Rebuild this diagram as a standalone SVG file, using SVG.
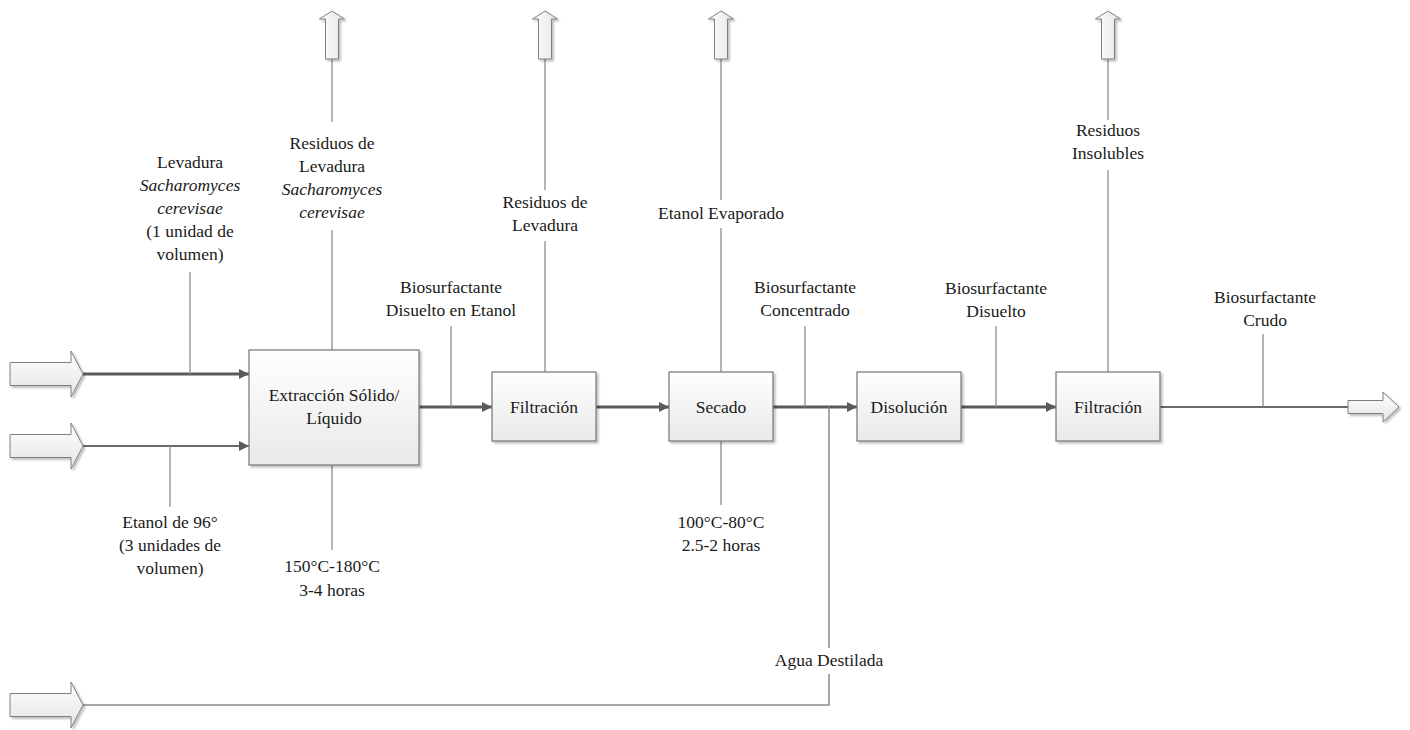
<svg xmlns="http://www.w3.org/2000/svg" width="1410" height="730" viewBox="0 0 1410 730">
  <defs>
    <linearGradient id="boxFill" x1="0" y1="0" x2="0" y2="1">
      <stop offset="0" stop-color="#ffffff"/>
      <stop offset="1" stop-color="#e9e9e9"/>
    </linearGradient>
    <linearGradient id="arrowFillH" x1="0" y1="0" x2="0" y2="1">
      <stop offset="0" stop-color="#ffffff"/>
      <stop offset="1" stop-color="#e4e4e4"/>
    </linearGradient>
    <linearGradient id="arrowFillV" x1="0" y1="0" x2="1" y2="0">
      <stop offset="0" stop-color="#ffffff"/>
      <stop offset="1" stop-color="#e4e4e4"/>
    </linearGradient>
    <filter id="shadow" x="-10%" y="-10%" width="130%" height="130%">
      <feGaussianBlur in="SourceAlpha" stdDeviation="1.2"/>
      <feOffset dx="2" dy="2" result="b"/>
      <feComponentTransfer><feFuncA type="linear" slope="0.25"/></feComponentTransfer>
      <feMerge><feMergeNode/><feMergeNode in="SourceGraphic"/></feMerge>
    </filter>
    <marker id="head" viewBox="0 0 10 10" refX="10" refY="5" markerWidth="10" markerHeight="10" markerUnits="userSpaceOnUse" orient="auto">
      <path d="M0,0 L10,5 L0,10 Z" fill="#5a5a5a"/>
    </marker>
  </defs>
  <style>
    .box { fill: url(#boxFill); stroke: #7f7f7f; stroke-width: 1.3; filter: url(#shadow); }
    .bigH { fill: url(#arrowFillH); stroke: #7f7f7f; stroke-width: 1; filter: url(#shadow); }
    .bigV { fill: url(#arrowFillV); stroke: #7f7f7f; stroke-width: 1; filter: url(#shadow); }
    .flow { fill: none; stroke: #5a5a5a; stroke-width: 3; }
    .flow2 { fill: none; stroke: #6a6a6a; stroke-width: 2; }
    .feed { fill: none; stroke: #8a8a8a; stroke-width: 1.5; }
    .tag { fill: none; stroke: #8c8c8c; stroke-width: 1.3; }
    text { font-family: "Liberation Serif", "Times New Roman", serif; font-size: 17.5px; fill: #1a1a1a; text-anchor: middle; }
    .it { font-style: italic; }
  </style>

  <!-- connectors -->
  <g id="connectors">
    <!-- main process flow -->
    <line class="flow" x1="83" y1="374" x2="249" y2="374" marker-end="url(#head)"/>
    <line class="flow2" x1="83" y1="446" x2="249" y2="446" marker-end="url(#head)"/>
    <line class="flow" x1="419" y1="407" x2="492" y2="407" marker-end="url(#head)"/>
    <line class="flow" x1="596" y1="407" x2="669" y2="407" marker-end="url(#head)"/>
    <line class="flow" x1="773" y1="407" x2="857" y2="407" marker-end="url(#head)"/>
    <line class="flow" x1="961" y1="407" x2="1056" y2="407" marker-end="url(#head)"/>
    <line class="flow2" x1="1160" y1="407" x2="1348" y2="407"/>
    <path class="feed" d="M83 705 H829 V407"/>

    <!-- label leaders -->
    <line class="tag" x1="190" y1="272" x2="190" y2="374"/>
    <line class="tag" x1="170" y1="446" x2="170" y2="507"/>
    <line class="tag" x1="332" y1="59" x2="332" y2="122"/>
    <line class="tag" x1="332" y1="230" x2="332" y2="350"/>
    <line class="tag" x1="332" y1="465" x2="332" y2="550"/>
    <line class="tag" x1="451" y1="326" x2="451" y2="407"/>
    <line class="tag" x1="545" y1="59" x2="545" y2="190"/>
    <line class="tag" x1="545" y1="241" x2="545" y2="372"/>
    <line class="tag" x1="721" y1="59" x2="721" y2="200"/>
    <line class="tag" x1="721" y1="228" x2="721" y2="372"/>
    <line class="tag" x1="721" y1="441" x2="721" y2="505"/>
    <line class="tag" x1="805" y1="326" x2="805" y2="407"/>
    <line class="tag" x1="996" y1="326" x2="996" y2="407"/>
    <line class="tag" x1="1108" y1="59" x2="1108" y2="120"/>
    <line class="tag" x1="1108" y1="170" x2="1108" y2="372"/>
    <line class="tag" x1="1263" y1="334" x2="1263" y2="407"/>
  </g>

  <!-- input / output block arrows -->
  <g id="in-levadura"><path class="bigH" d="M10 362.5 H71 V351 L83 374 L71 397 V385.5 H10 Z"/></g>
  <g id="in-etanol"><path class="bigH" d="M10 434.5 H71 V423 L83 446 L71 469 V457.5 H10 Z"/></g>
  <g id="in-agua"><path class="bigH" d="M10 693.5 H71 V682 L83 705 L71 728 V716.5 H10 Z"/></g>
  <g id="out-crudo"><path class="bigH" d="M1348 400.5 H1383 V392 L1399 407 L1383 422 V413.5 H1348 Z"/></g>
  <g id="out-residuos-1"><path class="bigV" d="M325.5 59 V19 H319.5 L332 11 L344.5 19 H338.5 V59 Z"/></g>
  <g id="out-residuos-2"><path class="bigV" d="M538.5 59 V19 H532.5 L545 11 L557.5 19 H551.5 V59 Z"/></g>
  <g id="out-etanol"><path class="bigV" d="M714.5 59 V19 H708.5 L721 11 L733.5 19 H727.5 V59 Z"/></g>
  <g id="out-insolubles"><path class="bigV" d="M1101.5 59 V19 H1095.5 L1108 11 L1120.5 19 H1114.5 V59 Z"/></g>

  <!-- process blocks -->
  <g id="extraccion">
    <rect class="box" x="249" y="350" width="170" height="115"/>
    <text x="334" y="401">Extracción Sólido/</text>
    <text x="334" y="424">Líquido</text>
  </g>
  <g id="filtracion-1">
    <rect class="box" x="492" y="372" width="104" height="69"/>
    <text x="544" y="413">Filtración</text>
  </g>
  <g id="secado">
    <rect class="box" x="669" y="372" width="104" height="69"/>
    <text x="721" y="413">Secado</text>
  </g>
  <g id="disolucion">
    <rect class="box" x="857" y="372" width="104" height="69"/>
    <text x="909" y="413">Disolución</text>
  </g>
  <g id="filtracion-2">
    <rect class="box" x="1056" y="372" width="104" height="69"/>
    <text x="1108" y="413">Filtración</text>
  </g>

  <!-- stream labels -->
  <g id="lbl-levadura">
    <text x="190" y="168">Levadura</text>
    <text x="190" y="191" class="it">Sacharomyces</text>
    <text x="190" y="214" class="it">cerevisae</text>
    <text x="190" y="237">(1 unidad de</text>
    <text x="190" y="260">volumen)</text>
  </g>
  <g id="lbl-etanol">
    <text x="170" y="528">Etanol de 96°</text>
    <text x="170" y="551">(3 unidades de</text>
    <text x="170" y="574">volumen)</text>
  </g>
  <g id="lbl-residuos-levadura">
    <text x="332" y="149">Residuos de</text>
    <text x="332" y="172">Levadura</text>
    <text x="332" y="195" class="it">Sacharomyces</text>
    <text x="332" y="218" class="it">cerevisae</text>
  </g>
  <g id="lbl-cond-extraccion">
    <text x="332" y="572">150°C-180°C</text>
    <text x="332" y="596">3-4 horas</text>
  </g>
  <g id="lbl-bio-etanol">
    <text x="451" y="293">Biosurfactante</text>
    <text x="451" y="316">Disuelto en Etanol</text>
  </g>
  <g id="lbl-residuos-2">
    <text x="545" y="208">Residuos de</text>
    <text x="545" y="231">Levadura</text>
  </g>
  <g id="lbl-etanol-evap">
    <text x="721" y="219">Etanol Evaporado</text>
  </g>
  <g id="lbl-cond-secado">
    <text x="721" y="528">100°C-80°C</text>
    <text x="721" y="551">2.5-2 horas</text>
  </g>
  <g id="lbl-concentrado">
    <text x="805" y="293">Biosurfactante</text>
    <text x="805" y="316">Concentrado</text>
  </g>
  <g id="lbl-disuelto">
    <text x="996" y="294">Biosurfactante</text>
    <text x="996" y="317">Disuelto</text>
  </g>
  <g id="lbl-insolubles">
    <text x="1108" y="136">Residuos</text>
    <text x="1108" y="159">Insolubles</text>
  </g>
  <g id="lbl-crudo">
    <text x="1265" y="303">Biosurfactante</text>
    <text x="1265" y="326">Crudo</text>
  </g>
  <g id="lbl-agua">
    <rect x="770" y="648" width="120" height="26" fill="#ffffff"/>
    <text x="829" y="666">Agua Destilada</text>
  </g>
</svg>
